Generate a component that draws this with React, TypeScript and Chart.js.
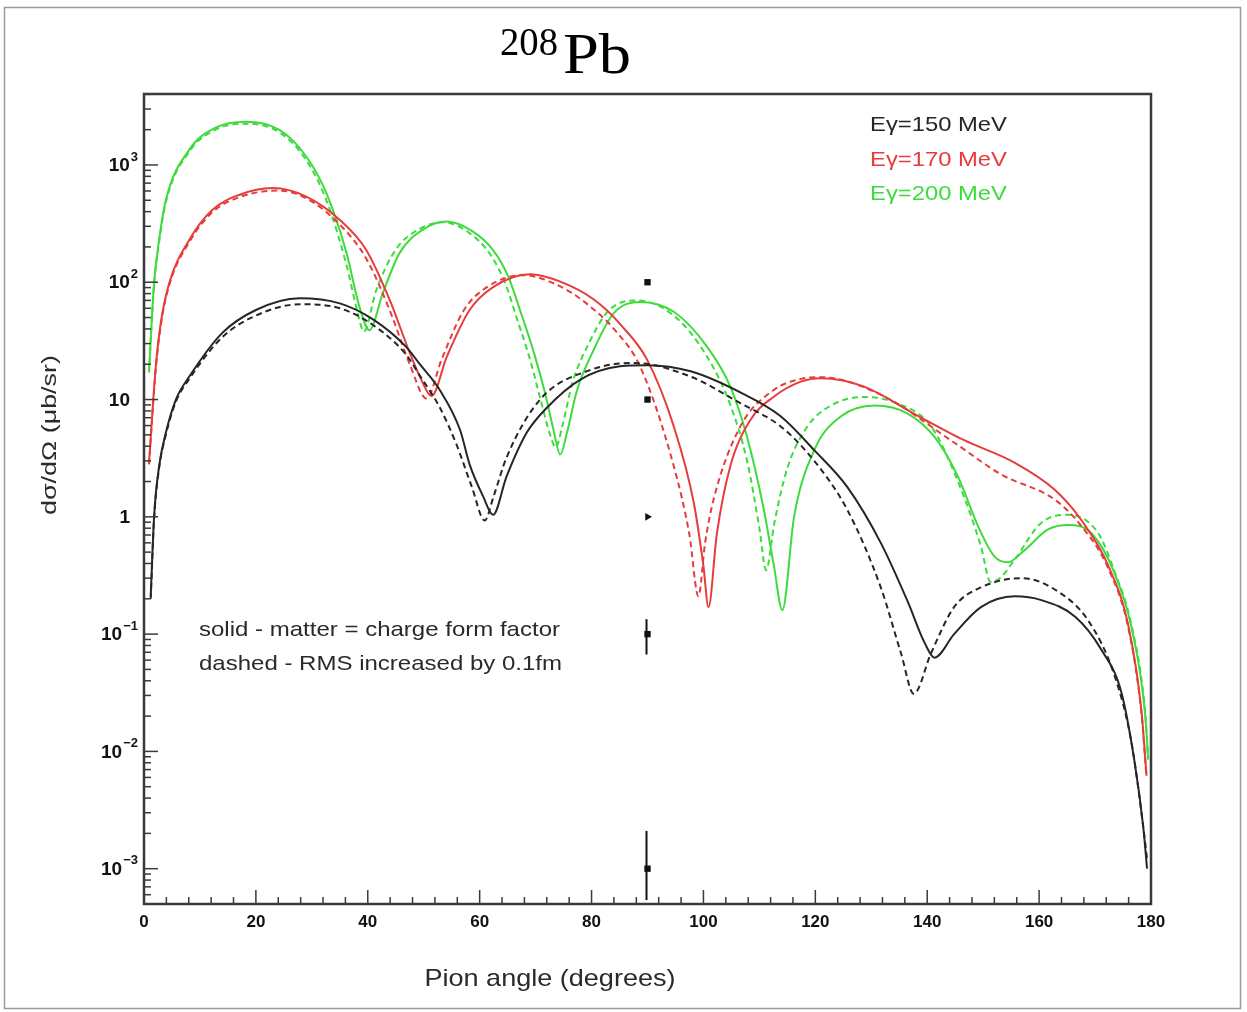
import React, { useEffect, useRef } from 'react';
import { Chart, registerables } from 'chart.js';

Chart.register(...registerables);

// ---- data ----
const xTickValues = [0, 20, 40, 60, 80, 100, 120, 140, 160, 180];
const yTickValues = [1e-3, 1e-2, 1e-1, 1, 10, 100, 1000];
const yTickBase = ['10', '10', '10', '1', '10', '10', '10'];
const yTickExp = ['−3', '−2', '−1', '', '', '2', '3'];
const seriesLabels = ['Eγ=150 MeV', 'Eγ=170 MeV', 'Eγ=200 MeV'];
const notes = ['solid - matter = charge form factor', 'dashed - RMS increased by 0.1fm'];

// [angle (deg), dσ/dΩ (μb/sr)]
const e150Solid: [number, number][] = [
  [1.2, 0.21], [1.8, 1.0], [2.7, 2.7], [3.9, 5.2], [5.7, 10], [8.1, 15.7], [14, 37], [20, 58], [27.8, 73],
  [35, 66], [41, 48], [46.9, 28], [49.3, 20], [52.9, 12], [56.5, 5.5], [58.2, 2.8], [60.6, 1.5], [62.4, 1.04],
  [64.8, 2.2], [68.4, 5.2], [72, 8.5], [78, 14.8], [85.1, 19.2], [90, 19.6], [97.7, 17.4], [106.6, 11.5],
  [113.8, 7.2], [119.8, 3.7], [125.7, 1.8], [131.7, 0.6], [136.5, 0.19], [139.5, 0.085], [141.3, 0.063],
  [144.8, 0.1], [149.6, 0.17], [155.6, 0.21], [160.4, 0.195], [166.5, 0.14], [171.1, 0.074], [174.7, 0.032],
  [177, 0.0085], [178.6, 0.0023], [179.3, 0.001],
];
const e150Dashed: [number, number][] = [
  [1.2, 0.2], [1.8, 0.95], [2.7, 2.6], [3.9, 5], [5.7, 9.6], [8.1, 15], [14, 34], [20, 52], [28, 65],
  [35, 60], [41, 43], [46.9, 24], [49.3, 16], [52.9, 8.5], [55.8, 4.2], [58.6, 1.8], [60.9, 0.93], [62.5, 1.5],
  [64.8, 3.2], [70.8, 10], [79.7, 17.8], [87.5, 20.5], [97.7, 15.7], [106.6, 9.3], [113.8, 5.9], [119.8, 3.0],
  [125.7, 1.15], [131.7, 0.25], [135.3, 0.069], [137.6, 0.031], [140.7, 0.069], [144.8, 0.17], [149.6, 0.25],
  [156.8, 0.3], [162.8, 0.24], [168.8, 0.13], [173.5, 0.044], [176.5, 0.012], [178.6, 0.0023], [179.3, 0.0012],
];
const e170Solid: [number, number][] = [
  [0.9, 2.9], [2.1, 19], [3, 45], [4.5, 98], [8.1, 230], [12.2, 413], [17, 555], [23, 635], [29, 537],
  [35, 340], [39.7, 189], [43.9, 71], [47.5, 25], [49.5, 15], [51.4, 10.7], [54.1, 23], [58.2, 58], [62.4, 91],
  [69, 117], [76.2, 93], [81.5, 65], [85.1, 44], [89.9, 22], [94.7, 5.9], [98.3, 1.3], [100, 0.38], [100.9, 0.17],
  [102.4, 0.72], [104.8, 2.7], [108.4, 6.7], [112.5, 10.5], [117.4, 14.2], [121, 15.2], [128.7, 12.9],
  [137.6, 7.6], [146.6, 4.5], [155.6, 2.9], [162.8, 1.7], [167.6, 0.93], [172.4, 0.38], [176, 0.115],
  [178.3, 0.022], [179.2, 0.0062],
];
const e170Dashed: [number, number][] = [
  [0.9, 2.8], [2.1, 18], [3, 43], [4.5, 94], [8.1, 220], [12.2, 395], [17, 530], [24, 605], [29, 520],
  [35, 310], [39.7, 160], [43.9, 58], [47.5, 20], [50.5, 10.2], [53.2, 22], [57.2, 58], [61.5, 92], [67.7, 115],
  [75.2, 88], [80.5, 58], [84, 40], [88.7, 19], [94.7, 2.7], [97.5, 0.7], [99.1, 0.21], [100.3, 0.6], [101.8, 1.4],
  [106.6, 5.9], [112.5, 12], [117.4, 15], [121, 15.5], [131.7, 11], [144.8, 4.3], [153.2, 2.3], [162.8, 1.4],
  [167.6, 0.83], [172.4, 0.36], [176, 0.11], [178.3, 0.021], [179.2, 0.006],
];
const e200Solid: [number, number][] = [
  [0.9, 18], [1.8, 98], [2.7, 230], [3.9, 500], [8.1, 1350], [12.8, 2080], [18.2, 2340], [24.2, 1990],
  [29, 1180], [32.6, 575], [36.2, 178], [38.5, 62], [40.3, 39], [42.7, 81], [45.7, 178], [49.8, 280],
  [54.1, 329], [58.8, 270], [62.4, 188], [65.1, 112], [67.2, 58], [69.6, 26], [71.7, 11.3], [73.2, 5.5],
  [74.4, 3.4], [75.6, 5.2], [77.4, 12], [80.3, 26], [83.9, 54], [88.7, 68], [94.7, 56], [100.7, 28],
  [104.8, 12.9], [107.8, 4.8], [110.8, 1.15], [112.6, 0.38], [114.1, 0.16], [116.2, 1.0], [119.8, 3.7],
  [124.6, 7.2], [130.6, 8.9], [136.5, 7.6], [141.3, 4.8], [145.5, 2.2], [149.1, 0.83], [152, 0.46],
  [154.4, 0.41], [157.4, 0.52], [161.6, 0.78], [165.2, 0.85], [169.4, 0.72], [173.5, 0.33], [176.5, 0.115],
  [178.9, 0.022], [179.5, 0.0085],
];
const e200Dashed: [number, number][] = [
  [0.9, 17], [1.8, 95], [2.7, 220], [3.9, 480], [8.1, 1300], [12.8, 2000], [18.2, 2250], [24.2, 1900],
  [29, 1100], [32.6, 500], [36.2, 140], [38, 60], [39.3, 38], [41.5, 85], [45, 190], [49.3, 285],
  [53.5, 325], [58.2, 262], [61.8, 175], [64.5, 100], [66.6, 50], [69, 22], [71, 9.5], [72.6, 5],
  [73.6, 3.9], [74.8, 6], [76.6, 14], [79.5, 30], [83, 57], [88, 70], [94.7, 52], [100.7, 23], [104.8, 9],
  [107.8, 3], [110, 0.8], [111.2, 0.35], [112.7, 0.9], [115, 2.6], [118.6, 5.9], [123, 9], [128.7, 10.5],
  [134, 9.5], [140.7, 5.9], [145.5, 2.0], [149.6, 0.56], [151.3, 0.28], [153, 0.3], [155.6, 0.43],
  [160.4, 0.89], [165.2, 1.04], [170.6, 0.72], [173.5, 0.34], [176.5, 0.12], [178.9, 0.023], [179.5, 0.009],
];

// reference markers at 90 degrees
const refAngle = 90;
const refValues = [100, 10, 1, 0.1, 0.001];
const refErrLow: (number | null)[] = [null, null, null, 0.067, 0.00054];
const refErrHigh: (number | null)[] = [null, null, null, 0.134, 0.0021];

const BLACK = '#262626';
const RED = '#e63c3c';
const GREEN = '#3ddc3d';
const SANS = '"Liberation Sans", Arial, sans-serif';
const SERIF = '"Liberation Serif", "Times New Roman", serif';

function fitText(ctx: CanvasRenderingContext2D, text: string, x: number, y: number, w: number,
  font: string, color: string, center = false) {
  ctx.save();
  ctx.font = font;
  ctx.fillStyle = color;
  ctx.textAlign = 'left';
  const m = ctx.measureText(text).width;
  ctx.translate(x, y);
  ctx.scale(w / m, 1);
  ctx.fillText(text, center ? -m / 2 : 0, 0);
  ctx.restore();
}

const decor = {
  id: 'decor',
  afterDatasetsDraw(chart: any) {
    const ctx: CanvasRenderingContext2D = chart.ctx;
    const xs = chart.scales.x;
    const ys = chart.scales.y;
    const { left, right, top, bottom } = chart.chartArea;
    ctx.save();
    // error bars on reference markers
    ctx.strokeStyle = '#111';
    ctx.lineWidth = 2;
    refValues.forEach((_, i) => {
      const lo = refErrLow[i];
      const hi = refErrHigh[i];
      if (lo == null || hi == null) return;
      const px = xs.getPixelForValue(refAngle) - 1;
      ctx.beginPath();
      ctx.moveTo(px, Math.min(bottom, ys.getPixelForValue(lo)));
      ctx.lineTo(px, ys.getPixelForValue(hi));
      ctx.stroke();
    });
    // ticks (inward)
    ctx.strokeStyle = '#3a3a3a';
    ctx.lineWidth = 1.5;
    for (let v = 0; v <= 180; v += 4) {
      const px = xs.getPixelForValue(v);
      const len = v % 20 === 0 ? 14 : 7;
      ctx.beginPath();
      ctx.moveTo(px, bottom);
      ctx.lineTo(px, bottom - len);
      ctx.stroke();
    }
    for (let e = -4; e <= 3; e++) {
      for (let m = 1; m <= 9; m++) {
        const v = m * Math.pow(10, e);
        if (v < ys.min || v > ys.max) continue;
        const py = ys.getPixelForValue(v);
        const len = m === 1 ? 14 : 7;
        ctx.beginPath();
        ctx.moveTo(left, py);
        ctx.lineTo(left + len, py);
        ctx.stroke();
      }
    }
    // frame
    ctx.strokeStyle = '#3a3a3a';
    ctx.lineWidth = 2.5;
    ctx.strokeRect(left, top, right - left, bottom - top);
    // y tick labels (base + superscript exponent)
    ctx.fillStyle = '#111';
    ctx.textBaseline = 'middle';
    ctx.textAlign = 'right';
    yTickValues.forEach((v, i) => {
      const py = ys.getPixelForValue(v);
      const ex = yTickExp[i];
      if (ex) {
        ctx.font = `bold 13px ${SANS}`;
        const ew = ctx.measureText(ex).width;
        ctx.fillText(ex, 138, py - 8);
        ctx.font = `bold 19px ${SANS}`;
        ctx.fillText(yTickBase[i], 138 - ew - 1, py + 1);
      } else {
        ctx.font = `bold 19px ${SANS}`;
        ctx.fillText(yTickBase[i], 130, py + 1);
      }
    });
    ctx.restore();
  },
  afterDraw(chart: any) {
    const ctx: CanvasRenderingContext2D = chart.ctx;
    ctx.save();
    // outer frame
    ctx.strokeStyle = '#9a9a9a';
    ctx.lineWidth = 1.5;
    ctx.strokeRect(4.5, 7.5, 1236, 1001);
    // title
    ctx.textBaseline = 'alphabetic';
    fitText(ctx, '208', 500, 55, 58, `40px ${SERIF}`, '#000');
    fitText(ctx, 'Pb', 563, 73, 68, `58px ${SERIF}`, '#000');
    // legend
    const colors = [BLACK, RED, GREEN];
    const baselines = [131, 166, 200];
    seriesLabels.forEach((t, i) => fitText(ctx, t, 870, baselines[i], 137, `21px ${SANS}`, colors[i]));
    // notes
    fitText(ctx, notes[0], 199, 636, 361, `21px ${SANS}`, '#2a2a2a');
    fitText(ctx, notes[1], 199, 670, 363, `21px ${SANS}`, '#2a2a2a');
    // x title
    fitText(ctx, 'Pion angle (degrees)', 550, 986, 251, `24px ${SANS}`, '#2a2a2a', true);
    // y title
    ctx.save();
    ctx.translate(56, 435);
    ctx.rotate(-Math.PI / 2);
    fitText(ctx, 'dσ/dΩ (μb/sr)', 0, 0, 160, `20px ${SANS}`, '#2a2a2a', true);
    ctx.restore();
    ctx.restore();
  },
};

const toXY = (arr: [number, number][]) => arr.map(([x, y]) => ({ x, y }));

export default function App() {
  const ref = useRef<HTMLCanvasElement | null>(null);
  useEffect(() => {
    if (!ref.current) return;
    const line = (data: [number, number][], color: string, dashed: boolean) => ({
      data: toXY(data),
      borderColor: color,
      backgroundColor: color,
      borderWidth: 2,
      borderDash: dashed ? [6, 4] : [],
      pointRadius: 0,
      fill: false,
      cubicInterpolationMode: 'monotone' as const,
    });
    const chart = new Chart(ref.current, {
      type: 'line',
      data: {
        datasets: [
          line(e150Solid, BLACK, false),
          line(e150Dashed, BLACK, true),
          line(e170Solid, RED, false),
          line(e170Dashed, RED, true),
          line(e200Solid, GREEN, false),
          line(e200Dashed, GREEN, true),
          {
            data: refValues.map((v) => ({ x: refAngle, y: v })),
            showLine: false,
            pointRadius: 4.5,
            pointStyle: ['rect', 'rect', 'triangle', 'rect', 'rect'] as any,
            rotation: [0, 0, 90, 0, 0] as any,
            pointBackgroundColor: '#111',
            pointBorderColor: '#111',
            pointBorderWidth: 0,
          } as any,
        ],
      },
      options: {
        animation: false,
        responsive: false,
        maintainAspectRatio: false,
        layout: { padding: { left: 0, top: 94, right: 96, bottom: 0 } },
        plugins: { legend: { display: false }, tooltip: { enabled: false } },
        scales: {
          x: {
            type: 'linear',
            min: 0,
            max: 180,
            afterBuildTicks: (s: any) => { s.ticks = xTickValues.map((v) => ({ value: v })); },
            afterFit: (s: any) => { s.height = 108; },
            grid: { display: false, drawTicks: false },
            border: { display: false },
            ticks: {
              color: '#111',
              padding: 8,
              maxRotation: 0,
              font: { family: SANS, weight: 'bold', size: 17 },
            },
          },
          y: {
            type: 'logarithmic',
            min: 5e-4,
            max: 4027,
            afterBuildTicks: (s: any) => { s.ticks = yTickValues.map((v) => ({ value: v })); },
            afterFit: (s: any) => { s.width = 144; },
            grid: { display: false, drawTicks: false },
            border: { display: false },
            ticks: { display: false },
          },
        },
      },
      plugins: [decor],
    });
    return () => chart.destroy();
  }, []);
  return (
    <div style={{ position: 'fixed', left: 0, top: 0, width: 1247, height: 1012, background: '#fff' }}>
      <canvas ref={ref} width={1247} height={1012} style={{ display: 'block', width: 1247, height: 1012 }} />
    </div>
  );
}
